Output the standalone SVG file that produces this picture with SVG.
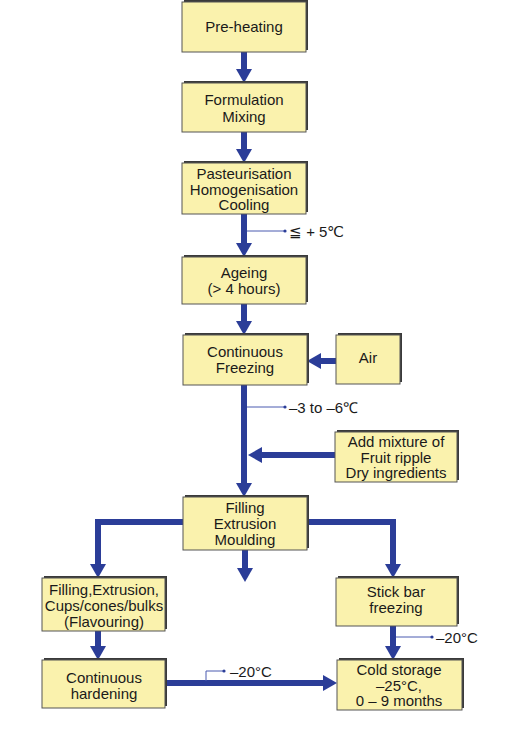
<svg xmlns="http://www.w3.org/2000/svg" width="506" height="740" viewBox="0 0 506 740">
<defs>
<style>
.sh{fill:#3a3a3a}
.bx{fill:#faf2ad;stroke:#555;stroke-width:1}
.t{font-family:"Liberation Sans",Arial,sans-serif;font-size:15px;fill:#1a1a1a;text-anchor:middle}
.a{font-family:"Liberation Sans",Arial,sans-serif;font-size:15px;fill:#1a1a1a}
.ln{fill:none;stroke:#2b3d98;stroke-width:6}
.thin{fill:none;stroke:#4a5ab0;stroke-width:1}
.dot{fill:#2b3d98}
</style>
<marker id="ah" viewBox="0 0 14 16" refX="6" refY="8" markerWidth="14" markerHeight="16" markerUnits="userSpaceOnUse" orient="auto">
<path d="M0,0 L14,8 L0,16 z" fill="#2b3d98"/>
</marker>
</defs>
<rect width="506" height="740" fill="#ffffff"/>

<g id="connectors">
<line class="ln" x1="244" y1="52" x2="244" y2="75" marker-end="url(#ah)"/>
<line class="ln" x1="244" y1="132" x2="244" y2="155" marker-end="url(#ah)"/>
<line class="ln" x1="244" y1="214" x2="244" y2="249" marker-end="url(#ah)"/>
<line class="ln" x1="244" y1="302" x2="244" y2="327" marker-end="url(#ah)"/>
<line class="ln" x1="336" y1="361" x2="315" y2="361" marker-end="url(#ah)"/>
<line class="ln" x1="244" y1="385" x2="244" y2="489" marker-end="url(#ah)"/>
<line class="ln" x1="335" y1="455" x2="256" y2="455" marker-end="url(#ah)"/>
<polyline class="ln" points="183,522 98,522 98,570" marker-end="url(#ah)"/>
<polyline class="ln" points="307,522 393,522 393,570" marker-end="url(#ah)"/>
<line class="ln" x1="245" y1="550" x2="245" y2="574" marker-end="url(#ah)"/>
<line class="ln" x1="98" y1="631" x2="98" y2="652" marker-end="url(#ah)"/>
<line class="ln" x1="393" y1="626" x2="393" y2="652" marker-end="url(#ah)"/>
<line class="ln" x1="165" y1="683" x2="329" y2="683" marker-end="url(#ah)"/>
</g>

<g id="annotations">
<line class="thin" x1="247" y1="231" x2="285" y2="231"/><circle class="dot" cx="285" cy="231" r="1.6"/>
<text class="a" x="289" y="237">≦ + 5℃</text>
<line class="thin" x1="247" y1="407" x2="285" y2="407"/><circle class="dot" cx="285" cy="407" r="1.6"/>
<text class="a" x="289" y="413">–3 to –6℃</text>
<line class="thin" x1="396" y1="637" x2="432" y2="637"/><circle class="dot" cx="432" cy="637" r="1.6"/>
<text class="a" x="436" y="643">–20°C</text>
<polyline class="thin" points="206,681 206,671 224,671"/><circle class="dot" cx="224" cy="671" r="1.6"/>
<text class="a" x="230" y="677">–20°C</text>
</g>

<g id="preheating">
<rect class="sh" x="184" y="0" width="124" height="50"/>
<rect class="bx" x="182" y="2" width="124" height="50"/>
<text class="t" x="244" y="32">Pre-heating</text>
</g>
<g id="formulation">
<rect class="sh" x="184" y="81" width="124" height="49"/>
<rect class="bx" x="182" y="83" width="124" height="49"/>
<text class="t" x="244" y="105">Formulation</text>
<text class="t" x="244" y="122">Mixing</text>
</g>
<g id="pasteurisation">
<rect class="sh" x="184" y="161" width="124" height="51"/>
<rect class="bx" x="182" y="163" width="124" height="51"/>
<text class="t" x="244" y="179">Pasteurisation</text>
<text class="t" x="244" y="194.5">Homogenisation</text>
<text class="t" x="244" y="210">Cooling</text>
</g>
<g id="ageing">
<rect class="sh" x="184" y="255" width="124" height="47"/>
<rect class="bx" x="182" y="257" width="124" height="47"/>
<text class="t" x="244" y="278">Ageing</text>
<text class="t" x="244" y="294">(&gt; 4 hours)</text>
</g>
<g id="freezing">
<rect class="sh" x="185" y="333" width="124" height="50"/>
<rect class="bx" x="183" y="335" width="124" height="50"/>
<text class="t" x="245" y="357">Continuous</text>
<text class="t" x="245" y="373">Freezing</text>
</g>
<g id="air">
<rect class="sh" x="338" y="333" width="64" height="49"/>
<rect class="bx" x="336" y="335" width="64" height="49"/>
<text class="t" x="368" y="363">Air</text>
</g>
<g id="mixture">
<rect class="sh" x="337" y="430" width="122" height="50"/>
<rect class="bx" x="335" y="432" width="122" height="50"/>
<text class="t" x="396" y="447">Add mixture of</text>
<text class="t" x="396" y="462.5">Fruit ripple</text>
<text class="t" x="396" y="478">Dry ingredients</text>
</g>
<g id="filling">
<rect class="sh" x="185" y="495" width="124" height="53"/>
<rect class="bx" x="183" y="497" width="124" height="53"/>
<text class="t" x="245" y="513">Filling</text>
<text class="t" x="245" y="529">Extrusion</text>
<text class="t" x="245" y="545">Moulding</text>
</g>
<g id="cups">
<rect class="sh" x="44" y="576" width="123" height="53"/>
<rect class="bx" x="42" y="578" width="123" height="53"/>
<text class="t" x="104" y="595">Filling,Extrusion,</text>
<text class="t" x="104" y="611">Cups/cones/bulks</text>
<text class="t" x="104" y="627">(Flavouring)</text>
</g>
<g id="stickbar">
<rect class="sh" x="338" y="576" width="121" height="48"/>
<rect class="bx" x="336" y="578" width="121" height="48"/>
<text class="t" x="396" y="597">Stick bar</text>
<text class="t" x="396" y="613">freezing</text>
</g>
<g id="hardening">
<rect class="sh" x="44" y="658" width="123" height="48"/>
<rect class="bx" x="42" y="660" width="123" height="48"/>
<text class="t" x="104" y="683">Continuous</text>
<text class="t" x="104" y="699">hardening</text>
</g>
<g id="coldstorage">
<rect class="sh" x="339" y="658" width="125" height="50"/>
<rect class="bx" x="337" y="660" width="125" height="50"/>
<text class="t" x="399" y="675">Cold storage</text>
<text class="t" x="399" y="690.5">–25°C,</text>
<text class="t" x="399" y="706">0 – 9 months</text>
</g>
</svg>
